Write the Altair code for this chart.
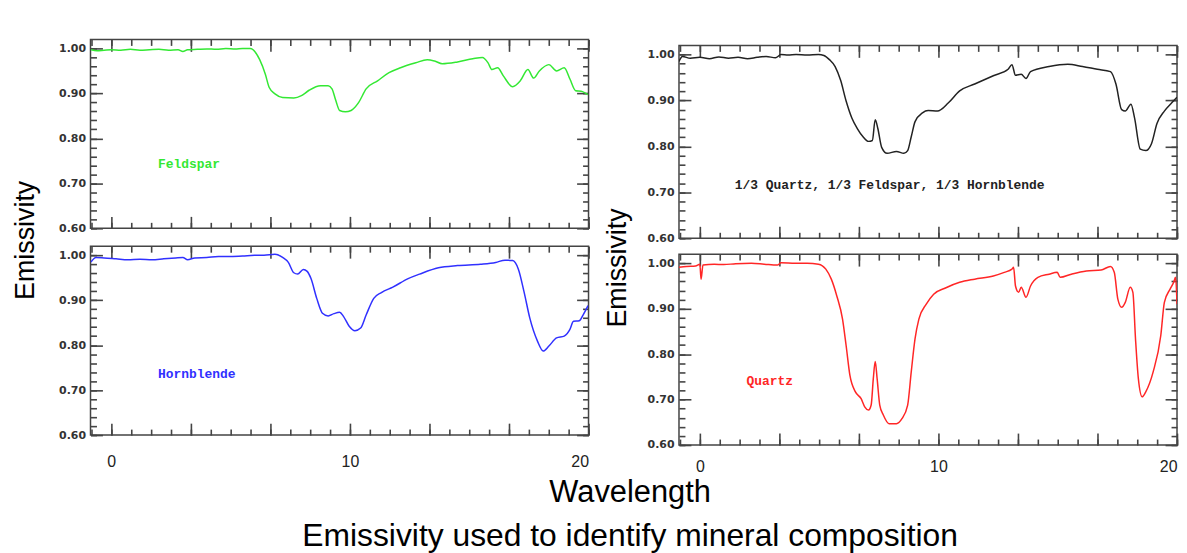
import altair as alt
import pandas as pd

# ---------------- data (wavelength, emissivity) ----------------
feldspar_wl = [-0.85, -0.6, -0.3, 0.0, 0.4, 0.8, 1.2, 1.6, 2.0, 2.4, 2.8, 3.0, 3.2, 3.6, 4.0, 4.4, 4.8, 5.2, 5.5, 5.82,
               6.22, 6.46, 6.62, 6.86, 7.18, 7.65, 7.97, 8.29, 8.77, 9.09, 9.25, 9.41, 9.57, 9.81, 10.05, 10.37,
               10.68, 11.16, 11.64, 12.12, 12.76, 13.24, 13.55, 13.87, 14.51, 15.15, 15.55, 15.79, 15.95, 16.19,
               16.43, 16.82, 17.14, 17.46, 17.70, 17.94, 18.34, 18.66, 18.98, 19.22, 19.46, 19.69, 19.98]
feldspar_em = [0.997, 0.995, 0.996, 0.997, 0.996, 0.998, 0.996, 0.997, 0.998, 0.996, 0.997, 0.993, 0.997, 0.998, 0.999,
               0.998, 1.0, 0.999, 1.0, 1.0,
               0.975, 0.942, 0.913, 0.899, 0.891, 0.890, 0.895, 0.907, 0.917, 0.917, 0.910, 0.884, 0.862, 0.859, 0.862,
               0.880, 0.910, 0.928, 0.946, 0.957, 0.968, 0.975, 0.972, 0.966, 0.970, 0.977, 0.980, 0.968, 0.953, 0.957,
               0.939, 0.915, 0.928, 0.953, 0.934, 0.950, 0.964, 0.950, 0.957, 0.932, 0.906, 0.905, 0.897]

hornblende_wl = [-0.85, -0.64, -0.3, 0.2, 0.7, 1.2, 1.7, 2.2, 2.7, 3.0, 3.2, 3.5, 4.0, 4.5, 5.0, 5.5, 6.0, 6.4, 6.86,
                 7.18, 7.42, 7.65, 7.81, 8.05, 8.21, 8.37, 8.61, 8.85, 9.09, 9.33, 9.57, 9.73, 9.97, 10.21, 10.45,
                 10.68, 11.00, 11.32, 11.80, 12.44, 12.92, 13.71, 14.51, 15.47, 16.11, 16.50, 16.82, 17.06, 17.30,
                 17.54, 17.86, 18.10, 18.34, 18.66, 18.98, 19.22, 19.37, 19.61, 19.77, 19.98]
hornblende_em = [0.985, 0.995, 0.994, 0.992, 0.990, 0.991, 0.990, 0.992, 0.994, 0.995, 0.990, 0.994, 0.995, 0.997,
                 0.997, 0.998, 1.0, 1.0, 1.002,
                 0.995, 0.984, 0.961, 0.958, 0.968, 0.964, 0.948, 0.904, 0.871, 0.865, 0.870, 0.873, 0.864, 0.842,
                 0.832, 0.838, 0.867, 0.904, 0.917, 0.929, 0.948, 0.958, 0.972, 0.977, 0.980, 0.984, 0.989, 0.988,
                 0.969, 0.918, 0.860, 0.809, 0.787, 0.798, 0.816, 0.820, 0.835, 0.853, 0.854, 0.867, 0.888]

mix_wl = [-0.875, -0.73, -0.4, 0.0, 0.4, 0.8, 1.2, 1.6, 2.0, 2.4, 2.78, 3.17, 3.40, 3.7, 4.03, 4.5, 4.97, 5.20,
          5.43, 5.67, 5.90, 6.13, 6.37, 6.60, 6.84, 7.07, 7.23, 7.35, 7.46, 7.62, 7.85, 8.24, 8.55, 8.71, 8.86,
          9.02, 9.33, 9.57, 9.96, 10.42, 10.89, 11.52, 12.30, 12.92, 13.08, 13.23, 13.47, 13.67, 13.86, 14.64,
          15.42, 16.04, 16.66, 17.21, 17.44, 17.68, 17.83, 18.07, 18.22, 18.46, 18.69, 18.93, 19.16, 19.47, 19.78,
          20.0]
mix_em = [0.985, 0.996, 0.992, 0.994, 0.991, 0.995, 0.992, 0.994, 0.991, 0.994, 0.996, 0.993, 1.0, 0.999, 1.0,
          0.999, 1.0, 0.998,
          0.989, 0.974, 0.944, 0.899, 0.862, 0.839, 0.821, 0.811, 0.813, 0.858, 0.839, 0.798, 0.785, 0.789, 0.785,
          0.791, 0.821, 0.854, 0.873, 0.878, 0.877, 0.895, 0.921, 0.936, 0.954, 0.968, 0.978, 0.955, 0.957, 0.948,
          0.963, 0.974, 0.979, 0.974, 0.968, 0.963, 0.936, 0.880, 0.877, 0.892, 0.862, 0.794, 0.791, 0.806, 0.850,
          0.877, 0.895, 0.907]

quartz_wl = [-0.875, -0.57, -0.18, 0.0, 0.05, 0.13, 0.6, 1.0, 1.5, 2.16, 2.7, 3.25, 3.40, 4.0, 4.50, 4.97, 5.28,
             5.51, 5.74, 5.98, 6.13, 6.29, 6.52, 6.76, 6.91, 7.07, 7.18, 7.27, 7.35, 7.43, 7.54, 7.69, 7.93, 8.24,
             8.47, 8.71, 8.86, 9.02, 9.18, 9.49, 9.80, 10.27, 10.89, 11.52, 12.30, 12.76, 13.08, 13.15, 13.23,
             13.36, 13.47, 13.67, 13.86, 14.17, 14.64, 14.98, 15.10, 15.57, 16.20, 16.82, 17.21, 17.37, 17.52,
             17.68, 17.83, 18.04, 18.15, 18.26, 18.38, 18.54, 18.69, 19.00, 19.32, 19.47, 19.71, 19.86, 19.94, 20.0]
quartz_em = [0.991, 0.993, 0.994, 0.998, 0.965, 0.996, 0.998, 0.997, 0.999, 1.0, 0.998, 0.996, 1.001, 1.0, 1.0,
             0.998, 0.987, 0.965, 0.928, 0.877, 0.819, 0.753, 0.717, 0.702, 0.684, 0.677, 0.688, 0.746, 0.784,
             0.746, 0.688, 0.666, 0.647, 0.647, 0.658, 0.688, 0.761, 0.834, 0.877, 0.910, 0.932, 0.945, 0.958,
             0.965, 0.972, 0.980, 0.987, 0.991, 0.950, 0.936, 0.947, 0.925, 0.950, 0.969, 0.976, 0.980, 0.969,
             0.976, 0.983, 0.985, 0.993, 0.980, 0.921, 0.903, 0.914, 0.947, 0.936, 0.834, 0.746, 0.706, 0.717,
             0.761, 0.841, 0.914, 0.943, 0.958, 0.969, 0.910]

# panel labels: text, x position (wavelength), y position (emissivity)
label_text = ["Feldspar", "Hornblende", "1/3 Quartz, 1/3 Feldspar, 1/3 Hornblende", "Quartz"]
label_x = [1.96, 1.96, 1.46, 1.96]
label_y = [0.744, 0.735, 0.715, 0.741]

x_tick_labels = [0, 10, 20]
y_tick_labels = [0.6, 0.7, 0.8, 0.9, 1.0]

# ---------------- styling ----------------
FRAME = "#444444"
X_DOM_LEFT = [-0.87, 20.0]
X_DOM_RIGHT = [-0.875, 20.0]
Y_DOM = [0.6, 1.02]
x_major = [i * 10 / 3 for i in range(7)]
x_minor = [(i - 1) * 10 / 12 for i in range(26)]
y_major = y_tick_labels
y_minor = [round(0.6 + 0.02 * i, 2) for i in range(21)]


def tick_layer(df, xs, ys, xorient, yorient, xvals, yvals, size):
    return alt.Chart(df).mark_point(opacity=0, size=0).encode(
        x=alt.X("Wavelength:Q", scale=xs,
                axis=alt.Axis(orient=xorient, values=xvals, offset=-size, tickSize=size, tickWidth=1.6,
                              tickColor=FRAME, labels=False, domain=False, grid=False, title=None)),
        y=alt.Y("Emissivity:Q", scale=ys,
                axis=alt.Axis(orient=yorient, values=yvals, offset=-size, tickSize=size, tickWidth=1.6,
                              tickColor=FRAME, labels=False, domain=False, grid=False, title=None)),
    )


def panel(wl, em, color, idx, xdom, w, h, xlabels, lpad=16):
    df = pd.DataFrame({"Wavelength": wl, "Emissivity": em})
    lab = pd.DataFrame({"x": [label_x[idx]], "y": [label_y[idx]], "t": [label_text[idx]]})
    xs = alt.Scale(domain=xdom, nice=False, zero=False)
    ys = alt.Scale(domain=Y_DOM, nice=False, zero=False)
    line = alt.Chart(df).mark_line(color=color, strokeWidth=1.5, clip=True, interpolate="monotone").encode(
        x=alt.X("Wavelength:Q", scale=xs,
                axis=alt.Axis(orient="bottom", values=x_tick_labels, format="d", title=None, domain=False,
                              ticks=False, grid=False, labels=xlabels, labelFont="Liberation Sans",
                              labelFontSize=16, labelColor="#222222", labelPadding=lpad)),
        y=alt.Y("Emissivity:Q", scale=ys,
                axis=alt.Axis(orient="left", values=y_tick_labels, format=".2f", title=None, domain=False,
                              ticks=False, grid=False, labelFont="DejaVu Sans", labelFontWeight="bold",
                              labelFontSize=11, labelColor="#333333", labelPadding=5)),
    )
    txt = alt.Chart(lab).mark_text(align="left", baseline="middle", color=color, font="Liberation Mono",
                                   fontWeight="bold", fontSize=13).encode(
        x=alt.X("x:Q", scale=xs, axis=None),
        y=alt.Y("y:Q", scale=ys, axis=None),
        text="t:N",
    )
    layers = [
        line,
        tick_layer(df, xs, ys, "bottom", "left", x_major, y_major, 12),
        tick_layer(df, xs, ys, "bottom", "left", x_minor, y_minor, 6),
        tick_layer(df, xs, ys, "top", "right", x_major, y_major, 12),
        tick_layer(df, xs, ys, "top", "right", x_minor, y_minor, 6),
        txt,
    ]
    return alt.layer(*layers).resolve_axis(x="independent", y="independent").properties(width=w, height=h)


fel = panel(feldspar_wl, feldspar_em, "#33e833", 0, X_DOM_LEFT, 501, 190, False)
horn = panel(hornblende_wl, hornblende_em, "#3030ff", 1, X_DOM_LEFT, 501, 190, True, lpad=19)
mix = panel(mix_wl, mix_em, "#222222", 2, X_DOM_RIGHT, 501, 194, False)
qtz = panel(quartz_wl, quartz_em, "#ff2626", 3, X_DOM_RIGHT, 501, 192, True, lpad=14)

# empty strip that lowers the right-hand column a little
spacer = alt.Chart(pd.DataFrame({"s": [0]})).mark_point(opacity=0).encode(
    x=alt.X("s:Q", axis=None), y=alt.Y("s:Q", axis=None)
).properties(width=501, height=1, view=alt.ViewBackground(stroke="transparent"))

ytitle = dict(orient="left", fontSize=27, font="Liberation Sans", fontWeight="normal", color="#000000",
              anchor="middle")
left = alt.vconcat(fel, horn, spacing=10).properties(
    title=alt.TitleParams("Emissivity", offset=18, dx=14, **ytitle))
right = alt.vconcat(spacer, alt.vconcat(mix, qtz, spacing=8), spacing=0).properties(
    title=alt.TitleParams("Emissivity", offset=14, dx=-12, **ytitle))

row = alt.hconcat(left, right, spacing=14).properties(
    title=alt.TitleParams("Wavelength", orient="bottom", anchor="middle", fontSize=31, font="Liberation Sans",
                          fontWeight="normal", color="#000000", offset=3, dx=35))

chart = alt.vconcat(row).properties(
    title=alt.TitleParams("Emissivity used to identify mineral composition", orient="bottom", anchor="middle",
                          fontSize=32, font="Liberation Sans", fontWeight="normal", color="#000000",
                          offset=13, dx=35),
    padding={"left": 4, "top": 27, "right": 0, "bottom": 0},
    background="white",
).configure_view(stroke=FRAME, strokeWidth=1.5)

chart.save("out.html", embed_options={"renderer": "svg", "actions": False})
